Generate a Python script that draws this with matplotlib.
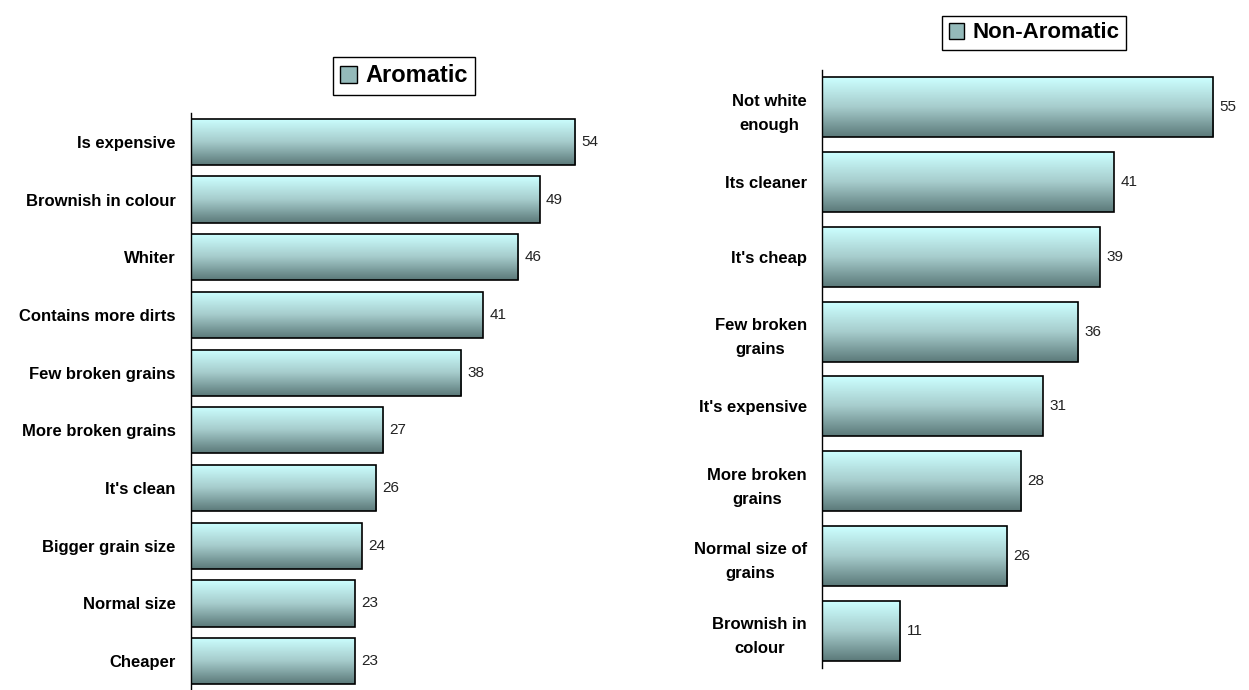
import numpy as np
import matplotlib.pyplot as plt
from matplotlib.patches import Patch
from matplotlib.colors import LinearSegmentedColormap

plt.rcParams['font.family'] = ['Liberation Sans', 'DejaVu Sans']

aromatic_labels = ["Is expensive", "Brownish in colour", "Whiter", "Contains more dirts",
                   "Few broken grains", "More broken grains", "It's clean",
                   "Bigger grain size", "Normal size", "Cheaper"]
aromatic_values = [54, 49, 46, 41, 38, 27, 26, 24, 23, 23]

non_aromatic_labels = ["Not white\nenough", "Its cleaner", "It's cheap", "Few broken\ngrains",
                       "It's expensive", "More broken\ngrains", "Normal size of\ngrains",
                       "Brownish in\ncolour"]
non_aromatic_values = [55, 41, 39, 36, 31, 28, 26, 11]

grad_cmap = LinearSegmentedColormap.from_list(
    'bar_grad', ['#CCFFFF', '#A6CCCC', '#5C7A7A'])


def gradient_bars(ax, labels, values, bar_h=0.8):
    n = len(values)
    pos = np.arange(n)[::-1]
    grad = np.linspace(0, 1, 64).reshape(-1, 1)
    bars = ax.barh(pos, values, height=bar_h, facecolor='none',
                   edgecolor='black', linewidth=1.2, zorder=3)
    for b, v in zip(bars, values):
        y0 = b.get_y()
        im = ax.imshow(grad, cmap=grad_cmap, aspect='auto', origin='upper',
                       extent=(0, v, y0, y0 + bar_h), zorder=2)
        im.set_clip_path(b)
        ax.text(v + 0.9, b.get_y() + bar_h / 2, str(v), va='center', ha='left',
                fontsize=11, color='#222222')
    ax.set_xlim(0, 60)
    ax.set_ylim(-0.5, n - 0.5)
    ax.set_yticks(pos)
    ax.set_yticklabels(labels, fontsize=12, fontweight='bold', linespacing=1.75,
                       multialignment='center')
    ax.tick_params(axis='y', length=0, pad=11)
    ax.set_xticks([])
    for s in ['top', 'right', 'bottom']:
        ax.spines[s].set_visible(False)
    ax.spines['left'].set_linewidth(1.0)


fig = plt.figure(figsize=(12.49, 6.90), dpi=100)

ax1 = fig.add_axes([191 / 1249, 0.0, 427 / 1249, 577 / 690])
gradient_bars(ax1, aromatic_labels, aromatic_values)

ax2 = fig.add_axes([822 / 1249, 22 / 690, 427 / 1249, 598 / 690])
gradient_bars(ax2, non_aromatic_labels, non_aromatic_values)

handle = Patch(facecolor='#94BABA', edgecolor='black', linewidth=1.0)
fig.legend([handle], ['Aromatic'], loc='center', bbox_to_anchor=(404 / 1249, 1 - 76 / 690),
           prop={'weight': 'bold', 'size': 17}, frameon=True, fancybox=False,
           edgecolor='black', handlelength=0.7, handleheight=0.7, handletextpad=0.35,
           borderpad=0.3, framealpha=1)
fig.legend([handle], ['Non-Aromatic'], loc='center', bbox_to_anchor=(1034 / 1249, 1 - 33 / 690),
           prop={'weight': 'bold', 'size': 16}, frameon=True, fancybox=False,
           edgecolor='black', handlelength=0.7, handleheight=0.7, handletextpad=0.35,
           borderpad=0.3, framealpha=1)

fig.savefig('out.png', dpi=100)
